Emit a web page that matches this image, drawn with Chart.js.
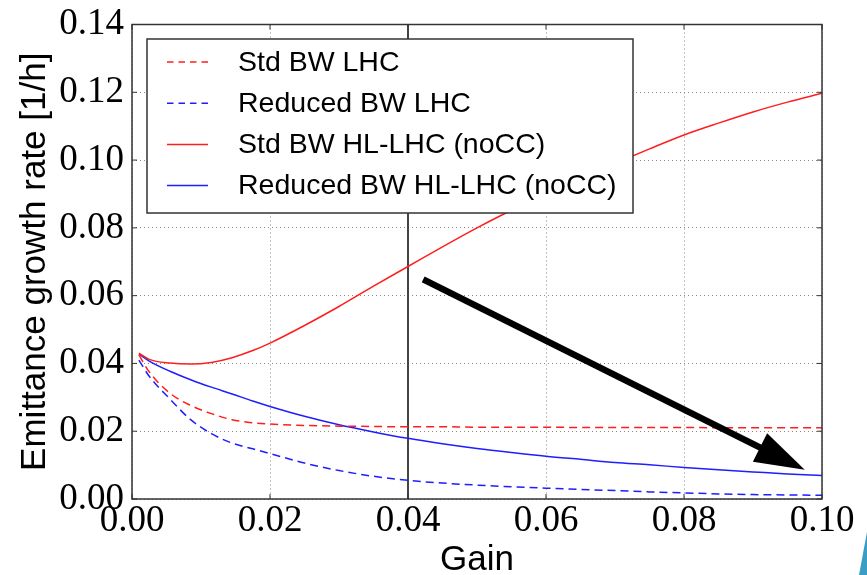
<!DOCTYPE html>
<html>
<head>
<meta charset="utf-8">
<script src="https://cdn.jsdelivr.net/npm/chart.js@4.4.1/dist/chart.umd.min.js"></script>
<style>
    html, body { margin: 0; padding: 0; background: #fff; }
    #wrap { width: 867px; height: 575px; }
</style>
</head>
<body>
<div id="wrap"><canvas id="chart" width="867" height="575"></canvas></div>
<script>
// gain values (x axis)
const gain = [0.001, 0.0025, 0.0055, 0.0085, 0.0115, 0.0145, 0.0175, 0.02, 0.025, 0.03, 0.035, 0.04,
    0.045, 0.05, 0.055, 0.06, 0.065, 0.07, 0.075, 0.08, 0.085, 0.09, 0.095, 0.1];

// emittance growth rate [1/h]
const stdLHC = [0.0425, 0.0375, 0.0312, 0.0276, 0.0252, 0.0234, 0.0225, 0.0221, 0.0217, 0.0215, 0.0214, 0.0213,
    0.0213, 0.0212, 0.0212, 0.0212, 0.0211, 0.0211, 0.0211, 0.0211, 0.0210, 0.0210, 0.0210, 0.0210];
const reducedLHC = [0.041, 0.0362, 0.0295, 0.0234, 0.0193, 0.0165, 0.0148, 0.0134, 0.0106, 0.0084, 0.0067, 0.0055,
    0.0047, 0.0041, 0.0036, 0.0032, 0.0028, 0.0025, 0.0021, 0.0018, 0.0015, 0.0013, 0.0012, 0.0011];
const stdHL = [0.0430, 0.0412, 0.0401, 0.0398, 0.0403, 0.0417, 0.0438, 0.0460, 0.0512, 0.0568, 0.0628, 0.0686,
    0.0744, 0.0800, 0.0852, 0.0899, 0.0945, 0.0990, 0.1033, 0.1074, 0.1109, 0.1142, 0.1171, 0.1197];
const reducedHL = [0.0428, 0.0407, 0.0377, 0.0352, 0.0330, 0.0310, 0.0289, 0.0273, 0.0244, 0.0219, 0.0198, 0.0179,
    0.0163, 0.0149, 0.0137, 0.0126, 0.0117, 0.0108, 0.0101, 0.0093, 0.0086, 0.0080, 0.0074, 0.0069];

const seriesLabels = ["Std BW LHC", "Reduced BW LHC", "Std BW HL-LHC (noCC)", "Reduced BW HL-LHC (noCC)"];

const xTicks = [0, 0.02, 0.04, 0.06, 0.08, 0.10];
const yTicks = [0, 0.02, 0.04, 0.06, 0.08, 0.10, 0.12, 0.14];

// annotations (data coords)
const markerGain = 0.04;
const arrowFrom = [0.0422, 0.0648];
const arrowTo = [0.0975, 0.0086];

function pts(ys) {
    return gain.map((g, i) => ({ x: g, y: ys[i] }));
}

function line(label, data, color, dash) {
    return {
        label: label,
        data: pts(data),
        borderColor: color,
        backgroundColor: color,
        borderWidth: 1.5,
        borderDash: dash,
        pointRadius: 0,
        fill: false,
        cubicInterpolationMode: "monotone",
    };
}

const RED = "rgb(255, 30, 30)";
const BLUE = "rgb(30, 30, 255)";

let decor = {
    id: "decor",
    beforeDraw(chart) {
        const ctx = chart.ctx;
        ctx.save();
        ctx.fillStyle = "#fff";
        ctx.fillRect(0, 0, chart.width, chart.height);
        // slide decoration in the corner
        ctx.fillStyle = "#3b9dc4";
        ctx.beginPath();
        ctx.moveTo(chart.width - 8, chart.height);
        ctx.lineTo(chart.width, chart.height - 43);
        ctx.lineTo(chart.width, chart.height);
        ctx.closePath();
        ctx.fill();
        ctx.restore();
    },
    beforeDatasetsDraw(chart) {
        const { ctx, chartArea, scales } = chart;
        const x = scales.x.getPixelForValue(markerGain);
        ctx.save();
        ctx.strokeStyle = "#444";
        ctx.lineWidth = 2;
        ctx.beginPath();
        ctx.moveTo(x, chartArea.top);
        ctx.lineTo(x, chartArea.bottom);
        ctx.stroke();
        ctx.restore();
    },
    afterDatasetsDraw(chart) {
        const { ctx, chartArea, scales } = chart;
        const xs = scales.x, ys = scales.y;

        // arrow
        const x0 = xs.getPixelForValue(arrowFrom[0]), y0 = ys.getPixelForValue(arrowFrom[1]);
        const x1 = xs.getPixelForValue(arrowTo[0]), y1 = ys.getPixelForValue(arrowTo[1]);
        const ang = Math.atan2(y1 - y0, x1 - x0);
        const headLen = 50, headHalf = 16;
        const bx = x1 - headLen * Math.cos(ang), by = y1 - headLen * Math.sin(ang);
        ctx.save();
        ctx.strokeStyle = "#000";
        ctx.fillStyle = "#000";
        ctx.lineWidth = 6.5;
        ctx.beginPath();
        ctx.moveTo(x0, y0);
        ctx.lineTo(bx + 2 * Math.cos(ang), by + 2 * Math.sin(ang));
        ctx.stroke();
        ctx.beginPath();
        ctx.moveTo(x1, y1);
        ctx.lineTo(bx - headHalf * Math.sin(ang), by + headHalf * Math.cos(ang));
        ctx.lineTo(bx + headHalf * Math.sin(ang), by - headHalf * Math.cos(ang));
        ctx.closePath();
        ctx.fill();
        ctx.restore();

        // frame + inner ticks
        ctx.save();
        ctx.strokeStyle = "#333";
        ctx.lineWidth = 1.5;
        ctx.strokeRect(chartArea.left, chartArea.top, chartArea.right - chartArea.left, chartArea.bottom - chartArea.top);
        ctx.lineWidth = 1;
        ctx.beginPath();
        xTicks.forEach((v) => {
            const p = xs.getPixelForValue(v);
            ctx.moveTo(p, chartArea.bottom); ctx.lineTo(p, chartArea.bottom - 5);
            ctx.moveTo(p, chartArea.top); ctx.lineTo(p, chartArea.top + 5);
        });
        yTicks.forEach((v) => {
            const p = ys.getPixelForValue(v);
            ctx.moveTo(chartArea.left, p); ctx.lineTo(chartArea.left + 5, p);
            ctx.moveTo(chartArea.right, p); ctx.lineTo(chartArea.right - 5, p);
        });
        ctx.stroke();
        ctx.restore();

        // legend box
        const bxL = chartArea.left + 15, bxT = chartArea.top + 14.5, bw = 486, bh = 174;
        ctx.save();
        ctx.fillStyle = "#fff";
        ctx.fillRect(bxL, bxT, bw, bh);
        ctx.strokeStyle = "#333";
        ctx.lineWidth = 1.5;
        ctx.strokeRect(bxL, bxT, bw, bh);
        ctx.font = "28.5px 'Liberation Sans', Arial, sans-serif";
        ctx.textBaseline = "middle";
        ctx.fillStyle = "#000";
        chart.data.datasets.forEach((ds, i) => {
            const y = bxT + 23 + i * 41.2;
            ctx.strokeStyle = ds.borderColor;
            ctx.lineWidth = 1.5;
            ctx.setLineDash(ds.borderDash.length ? [6.5, 5] : []);
            ctx.beginPath();
            ctx.moveTo(bxL + 20, y);
            ctx.lineTo(bxL + 61, y);
            ctx.stroke();
            ctx.setLineDash([]);
            ctx.fillText(ds.label, bxL + 91, y + 1);
        });
        ctx.restore();
    }
};

let tickFont = { family: "'Liberation Serif', 'Times New Roman', serif", size: 37 };
let titleFont = { family: "'Liberation Sans', Arial, sans-serif", size: 35, lineHeight: 0.82 };

let chart = new Chart(document.getElementById("chart"), {
    type: "line",
    data: {
        datasets: [
            line(seriesLabels[0], stdLHC, RED, [8, 5]),
            line(seriesLabels[1], reducedLHC, BLUE, [8, 5]),
            line(seriesLabels[2], stdHL, RED, []),
            line(seriesLabels[3], reducedHL, BLUE, []),
        ]
    },
    options: {
        animation: false,
        responsive: false,
        layout: { padding: { left: 0, right: 45, top: 24.5, bottom: 0 } },
        plugins: {
            legend: { display: false },
            tooltip: { enabled: false }
        },
        scales: {
            x: {
                type: "linear",
                min: 0,
                max: 0.1,
                afterFit: (scale) => {
                    scale.height = 76;
                    scale.paddingLeft = 0;
                    scale.paddingRight = 0;
                },
                afterBuildTicks: (scale) => { scale.ticks = xTicks.map((v) => ({ value: v })); },
                ticks: {
                    color: "#000",
                    font: tickFont,
                    padding: 0,
                    maxRotation: 0,
                    callback: (v) => v.toFixed(2)
                },
                grid: { color: "#888", lineWidth: 1, drawTicks: false },
                border: { display: false, dash: [1, 3] },
                title: {
                    display: true,
                    text: "Gain",
                    color: "#000",
                    font: titleFont,
                    padding: { top: 0, bottom: 0 }
                }
            },
            y: {
                min: 0,
                max: 0.14,
                afterFit: (scale) => {
                    scale.width = 132;
                    scale.paddingTop = 0;
                    scale.paddingBottom = 0;
                },
                afterBuildTicks: (scale) => { scale.ticks = yTicks.map((v) => ({ value: v })); },
                ticks: {
                    color: "#000",
                    font: tickFont,
                    padding: 8,
                    callback: (v) => v.toFixed(2)
                },
                grid: { color: "#888", lineWidth: 1, drawTicks: false },
                border: { display: false, dash: [1, 3] },
                title: {
                    display: true,
                    text: "Emittance growth rate [1/h]",
                    color: "#000",
                    font: titleFont,
                    padding: { top: 21, bottom: 0 }
                }
            }
        }
    },
    plugins: [decor]
});
</script>
</body>
</html>
